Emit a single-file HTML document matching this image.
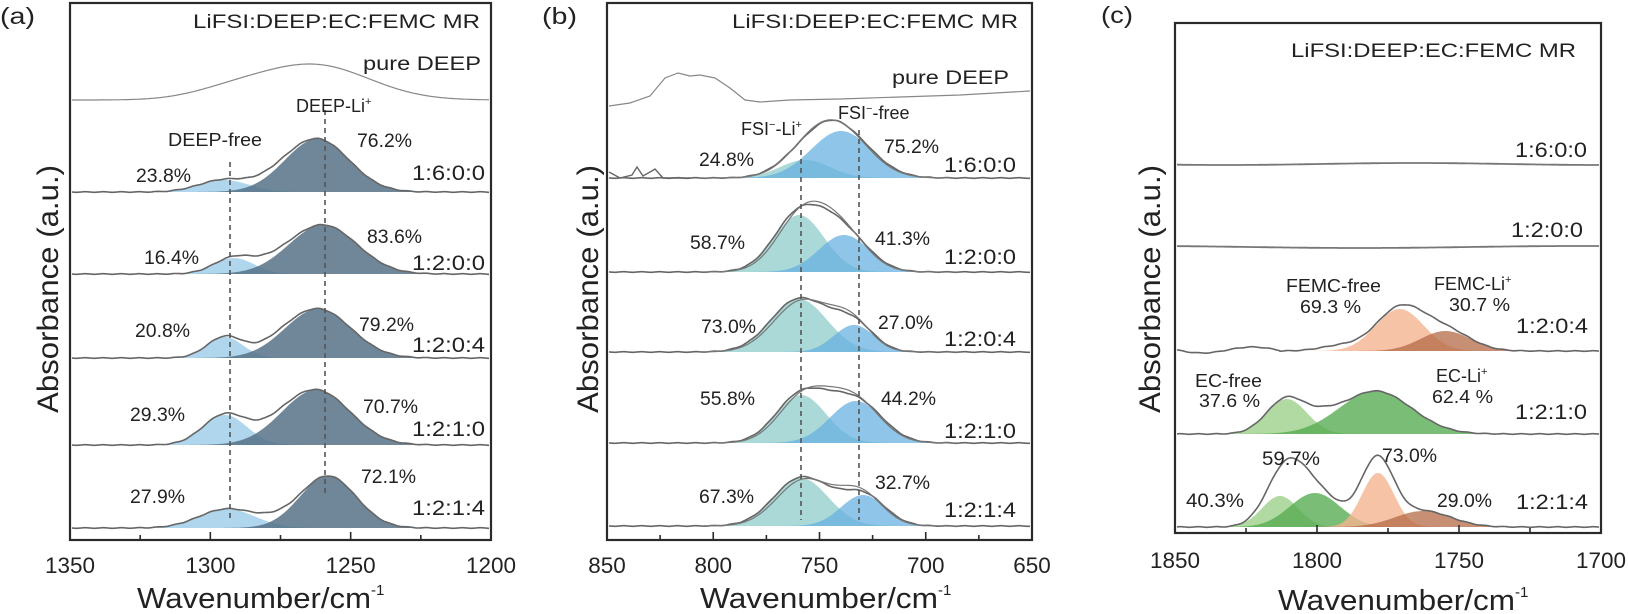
<!DOCTYPE html>
<html><head><meta charset="utf-8"><style>
html,body{margin:0;padding:0;background:#fff;}
svg{display:block;font-family:"Liberation Sans",Arial,sans-serif;}
</style></head><body>
<svg id="s" width="1628" height="614" viewBox="0 0 1628 614" xmlns="http://www.w3.org/2000/svg"></svg>
<script>
const S=document.getElementById('s');let H='';
function g(x,c,a,s){return a*Math.exp(-0.5*((x-c)/s)**2);}
function fill(x0,x1,base,c,a,s,col){let d=`M${x0},${base}`;for(let x=x0;x<=x1;x+=1)d+=`L${x},${(base-g(x,c,a,s)).toFixed(1)}`;d+=`L${x1},${base}Z`;H+=`<path d="${d}" fill="${col}"/>`;}
function env(x0,x1,base,comps,extra,col,w,off){let d='';for(let x=x0;x<=x1;x+=1){let y=base;comps.forEach(p=>y-=g(x,p[0],p[1],p[2]));if(extra)y+=extra(x);y+=off?Math.sin(x*0.35)*0.3:0;d+=(x==x0?'M':'L')+x+','+y.toFixed(1);}H+=`<path d="${d}" fill="none" stroke="${col||'#6a6a6a'}" stroke-width="${w||1.6}"/>`;}
function T(x,y,t,size,len,anchor){H+=`<text x="${x}" y="${y}" font-size="${size}" fill="#222" ${len?`textLength="${len}" lengthAdjust="spacingAndGlyphs"`:''} ${anchor?`text-anchor="${anchor}"`:''}>${t}</text>`;}
function dash(x,y0,y1){H+=`<line x1="${x}" y1="${y0}" x2="${x}" y2="${y1}" stroke="#555" stroke-width="1.6" stroke-dasharray="5,4"/>`;}
function box(x0,y0,x1,y1){H+=`<rect x="${x0}" y="${y0}" width="${x1-x0}" height="${y1-y0}" fill="none" stroke="#2a2a2a" stroke-width="2.2"/>`;}
function ticks(x0,x1,y1,labels,lbY){const n=labels.length-1;for(let i=0;i<=n*2;i++){const x=x0+(x1-x0)*i/(n*2);const L=i%2==0?8:5;H+=`<line x1="${x}" y1="${y1}" x2="${x}" y2="${y1-L}" stroke="#2a2a2a" stroke-width="1.6"/>`;}
labels.forEach((l,i)=>T(x0+(x1-x0)*i/n,lbY,l,22,l.length*12.5,'middle'));}
function ylab(x,cy){H+=`<text transform="translate(${x},${cy}) rotate(-90)" font-size="30" text-anchor="middle" fill="#222" textLength="248" lengthAdjust="spacingAndGlyphs">Absorbance (a.u.)</text>`;}
function xlab(x0,x1,y){H+=`<text x="${x0}" y="${y}" font-size="29" fill="#222" textLength="${x1-x0-10}" lengthAdjust="spacingAndGlyphs">Wavenumber/cm</text><text x="${x1-10}" y="${y-13}" font-size="15" fill="#222">-1</text>`;}
const DARK='rgba(80,108,130,0.82)',LB='rgba(150,200,232,0.75)';
const TEAL='rgba(150,208,205,0.8)',BLU='rgba(100,175,225,0.72)';
const LG='rgba(150,205,130,0.75)',GR='rgba(85,170,80,0.78)',PE='rgba(245,180,145,0.8)',BR='rgba(180,105,70,0.75)';

/* ---------- panel a ---------- */
box(70,3,491,540);
env(72,489,100,[[314,35,55],[230,8,40]],null,'#888',1.2);
const A=[[192,[317,53,32],[224,12,25]],[274,[323,49,34],[234,16,20]],[358,[318,49,33],[225,21,18]],[445,[316,55,34],[225,30,22]],[528,[328,52,28],[227,19,28]]];
A.forEach(r=>{fill(72,489,r[0],r[2][0],r[2][1],r[2][2],LB);fill(72,489,r[0],r[1][0],r[1][1],r[1][2],DARK);
 env(72,489,r[0],[r[1],r[2],[275,4,20]],null,'#666',1.6,true);});
dash(325,110,493);dash(230,162,520);
T(193,28,'LiFSI:DEEP:EC:FEMC MR',19,287);T(363,70,'pure DEEP',19,118);
H+=`<text x="296" y="112" font-size="18" fill="#222">DEEP-Li<tspan font-size="11" dy="-7">+</tspan></text>`;
T(168,146,'DEEP-free',18,94);
[[136,182,'23.8%',357,147,'76.2%',180,'1:6:0:0'],[144,264,'16.4%',367,243,'83.6%',270,'1:2:0:0'],[135,337,'20.8%',359,331,'79.2%',352,'1:2:0:4'],[130,421,'29.3%',363,413,'70.7%',436,'1:2:1:0'],[130,503,'27.9%',361,483,'72.1%',515,'1:2:1:4']].forEach(r=>{T(r[0],r[1],r[2],19,55);T(r[3],r[4],r[5],19,55);T(412,r[6],r[7],21,73);});
ticks(70,491,540,['1350','1300','1250','1200'],573);
xlab(137,381,608);ylab(58,289);T(0,24,'(a)',23,35);

/* ---------- panel b ---------- */
box(607,3,1032,540);
{let pts=[[609,106],[630,103],[650,96],[665,78],[678,73],[690,76],[700,75],[715,78],[730,88],[745,100],[760,102],[790,100],[840,99],[900,97],[960,95],[1030,91]];H+=`<path d="M${pts.map(p=>p.join(',')).join('L')}" fill="none" stroke="#888" stroke-width="1.2"/>`;}
const B=[[178,[805,18,25],[841,47,30]],[272,[799,57,25],[844,37,25]],[352,[799,53,28],[854,27,20]],[443,[801,48,25],[856,42,26]],[526,[801,48,27],[863,31,22]]];
B.forEach((r,i)=>{fill(609,1030,r[0],r[1][0],r[1][1],r[1][2],TEAL);fill(609,1030,r[0],r[2][0],r[2][1],r[2][2],BLU);
 env(609,1030,r[0],[r[1],r[2],[830,3,15]],null,'#666',1.6,true);
 env(700,960,r[0],[[r[1][0]+3,r[1][1]-2,r[1][2]],[r[2][0]-3,r[2][1]+2,r[2][2]]],null,'#777',1.2);});
H+=`<path d="M609,172L620,178L632,175L637,167L643,176L650,172L655,169L663,178L690,178" fill="none" stroke="#666" stroke-width="1.4"/>`;
dash(801,150,520);dash(859,130,520);
T(732,28,'LiFSI:DEEP:EC:FEMC MR',19,286);T(892,84,'pure DEEP',19,117);
H+=`<text x="741" y="135" font-size="18" fill="#222">FSI<tspan font-size="11" dy="-7">−</tspan><tspan dy="7">-Li</tspan><tspan font-size="11" dy="-7">+</tspan></text>`;
H+=`<text x="838" y="119" font-size="18" fill="#222">FSI<tspan font-size="11" dy="-7">−</tspan><tspan dy="7">-free</tspan></text>`;
[[699,166,'24.8%',884,153,'75.2%',172,'1:6:0:0'],[690,249,'58.7%',875,245,'41.3%',264,'1:2:0:0'],[701,333,'73.0%',878,329,'27.0%',346,'1:2:0:4'],[700,405,'55.8%',881,405,'44.2%',438,'1:2:1:0'],[699,503,'67.3%',875,489,'32.7%',517,'1:2:1:4']].forEach(r=>{T(r[0],r[1],r[2],19,55);T(r[3],r[4],r[5],19,55);T(944,r[6],r[7],21,72);});
ticks(607,1032,540,['850','800','750','700','650'],573);
xlab(700,948,608);ylab(598,289);T(542,24,'(b)',23,35);

/* ---------- panel c ---------- */
box(1175,23,1601,533);
const cx=x=>1175+(x-1173)*1.017;
env(1177,1599,164,[],x=>Math.sin(x/60)*1,'#777',1.8);
env(1177,1599,247,[],x=>Math.sin(x/70+1)*1,'#777',1.8);
fill(1177,1599,351,cx(1394),42,24,PE);fill(1177,1599,351,cx(1439),20,25,BR);
env(1177,1599,351,[[cx(1394),42,24],[cx(1439),20,25],[cx(1335),5,20]],x=>x<1280?Math.sin((x-1177)/16)*3-1:0,'#666',1.6,true);
fill(1177,1599,434,cx(1283),35,20,LG);fill(1177,1599,434,cx(1370),43,36,GR);
env(1177,1599,434,[[cx(1283),35,20],[cx(1370),43,36],[1325,6,14]],null,'#666',1.6,true);
fill(1177,1599,527,1280,31,18,LG);fill(1177,1599,527,1315,34,25,GR);fill(1177,1599,527,1378,54,16,PE);fill(1177,1599,527,1423,16,28,BR);
env(1177,1599,527,[[1280,31,18],[1315,34,25],[1378,54,16],[1423,16,28],[1293,22,18],[1374,12,16]],null,'#666',1.6,true);
T(1291,57,'LiFSI:DEEP:EC:FEMC MR',19,285);
T(1515,157,'1:6:0:0',21,72);T(1511,237,'1:2:0:0',21,72);
T(1286,292,'FEMC-free',18,95);T(1300,313,'69.3 %',18,61);
H+=`<text x="1434" y="290" font-size="18" fill="#222">FEMC-Li<tspan font-size="11" dy="-7">+</tspan></text>`;
T(1449,311,'30.7 %',18,61);T(1516,333,'1:2:0:4',21,72);
T(1195,387,'EC-free',18,67);T(1199,407,'37.6 %',18,61);
H+=`<text x="1436" y="382" font-size="18" fill="#222">EC-Li<tspan font-size="11" dy="-7">+</tspan></text>`;
T(1432,403,'62.4 %',18,61);T(1515,419,'1:2:1:0',21,72);
T(1262,465,'59.7%',19,58);T(1382,462,'73.0%',19,55);T(1186,507,'40.3%',19,58);T(1437,507,'29.0%',19,55);T(1516,509,'1:2:1:4',21,72);
ticks(1175,1601,533,['1850','1800','1750','1700'],568);
xlab(1278,1525,610);ylab(1160,289);T(1101,23,'(c)',23,32);
S.innerHTML=H;
</script>
</body></html>
